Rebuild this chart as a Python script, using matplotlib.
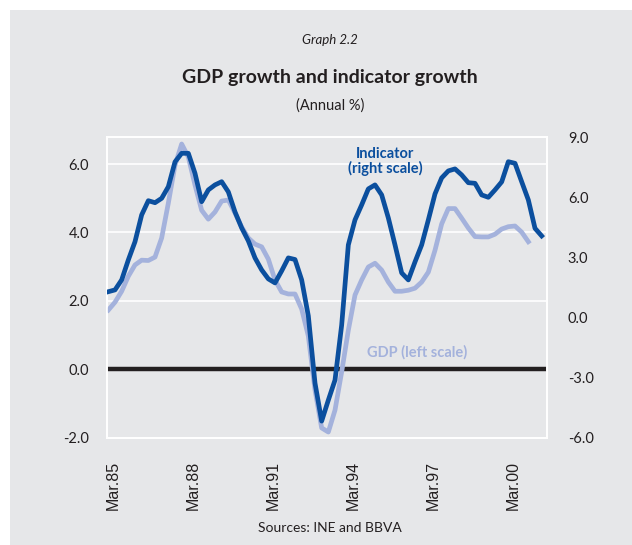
import matplotlib
matplotlib.use("Agg")
import matplotlib.pyplot as plt
from matplotlib.patches import Rectangle
import numpy as np

# Quarterly data starting Mar.85
indicator = [1.29, 1.38, 1.88, 2.88, 3.79, 5.13, 5.84, 5.74, 5.96, 6.54,
             7.78, 8.21, 8.21, 7.21, 5.79, 6.38, 6.63, 6.79, 6.28, 5.28,
             4.48, 3.83, 2.98, 2.38, 1.93, 1.73, 2.33, 2.98, 2.90, 1.88,
             0.08, -3.28, -5.18, -4.13, -3.13, -0.38, 3.63, 4.88, 5.63, 6.43,
             6.63, 6.13, 4.98, 3.63, 2.23, 1.88, 2.78, 3.63, 4.88, 6.18,
             6.98, 7.33, 7.43, 7.13, 6.74, 6.71, 6.13, 6.01, 6.38, 6.78,
             7.79, 7.71, 6.79, 5.88, 4.46, 4.08]
gdp = [1.73, 1.96, 2.28, 2.72, 3.05, 3.19, 3.18, 3.28, 3.84, 4.86,
       5.97, 6.59, 6.21, 5.39, 4.65, 4.39, 4.60, 4.92, 4.95, 4.57,
       4.16, 3.84, 3.66, 3.58, 3.22, 2.61, 2.26, 2.20, 2.20, 1.76,
       0.97, -0.61, -1.72, -1.84, -1.20, -0.08, 1.14, 2.17, 2.61, 2.99,
       3.10, 2.90, 2.55, 2.28, 2.28, 2.31, 2.37, 2.55, 2.84, 3.48,
       4.25, 4.70, 4.70, 4.42, 4.13, 3.88, 3.87, 3.87, 3.95, 4.10,
       4.17, 4.19, 4.01, 3.73]
tick_labels = ["Mar.85", "Mar.88", "Mar.91", "Mar.94", "Mar.97", "Mar.00"]
tick_quarters = [0, 12, 24, 36, 48, 60]
left_ticks = [-2.0, 0.0, 2.0, 4.0, 6.0]
right_ticks = [-6.0, -3.0, 0.0, 3.0, 6.0, 9.0]

BG = "#e6e7e9"
DARK = "#0b4f9e"
LIGHT = "#a4b2dc"
TXT = "#231f20"

W, H = 632, 545
fig = plt.figure(figsize=(W / 100, H / 100), dpi=100)
fig.patch.set_facecolor("white")
fig.add_artist(Rectangle((10 / W, 0), 1 - 10 / W, (H - 10) / H,
                         transform=fig.transFigure, facecolor=BG,
                         edgecolor="none", zorder=0))

ax = fig.add_axes([107 / W, (H - 437.5) / H, 440 / W, 300 / H])
ax.set_facecolor(BG)
ax2 = ax.twinx()

x_ind = np.arange(len(indicator))
x_gdp = np.arange(len(gdp))

ax.set_ylim(-2.0, 6.78)
ax2.set_ylim(-6.0, 9.0)
ax.set_xlim(-0.2, 65.8)

for y in left_ticks[1:]:
    ax.axhline(y, color="white", lw=1.2, zorder=1)
ax.axhline(0, color=TXT, lw=3.2, zorder=2)

ax.plot(x_gdp, gdp, color=LIGHT, lw=3.4, zorder=3, solid_joinstyle="round")
ax.set_zorder(1)
ax2.set_zorder(2)
ax2.patch.set_visible(False)
ax2.plot(x_ind, indicator, color=DARK, lw=3.4, zorder=4, solid_joinstyle="round")

for a in (ax, ax2):
    for s in a.spines.values():
        s.set_color("white")
        s.set_linewidth(1.2)
    a.tick_params(length=0)

tick_font = dict(family="Lato", size=10.5, color=TXT)
ax.set_yticks(left_ticks)
ax.set_yticklabels([f"{v:.1f}" for v in left_ticks], **tick_font)
ax.tick_params(axis="y", pad=13)
ax2.set_yticks(right_ticks)
ax2.set_yticklabels([f"{v:.1f}" for v in right_ticks], **tick_font)
ax2.tick_params(axis="y", pad=15)
ax.set_xticks([q + 0.75 for q in tick_quarters])
ax.set_xticklabels(tick_labels, rotation=90, family="Liberation Sans",
                   size=11.5, color=TXT)
ax.tick_params(axis="x", pad=17)

ax2.text(41.5, 7.8, "Indicator\n(right scale)", color=DARK,
         ha="center", va="center", family="Lato", fontweight="bold",
         size=10.5, linespacing=1.0)
ax.text(46.3, 0.5, "GDP (left scale)", color=LIGHT, ha="center",
        va="center", family="Lato", fontweight="bold", size=10.5)

fig.text(330 / W, 1 - 40 / H, "Graph 2.2", ha="center", va="center",
         family="Lato", style="italic", size=9.5, color=TXT)
fig.text(330 / W, 1 - 77 / H, "GDP growth and indicator growth",
         ha="center", va="center", family="Lato", fontweight="bold",
         size=14, color=TXT)
fig.text(330 / W, 1 - 106 / H, "(Annual %)", ha="center", va="center",
         family="Lato", size=10.5, color=TXT)
fig.text(330 / W, 1 - 528 / H, "Sources: INE and BBVA", ha="center",
         va="center", family="Lato", size=10, color=TXT)

fig.savefig("out.png", dpi=100, facecolor=fig.get_facecolor())
